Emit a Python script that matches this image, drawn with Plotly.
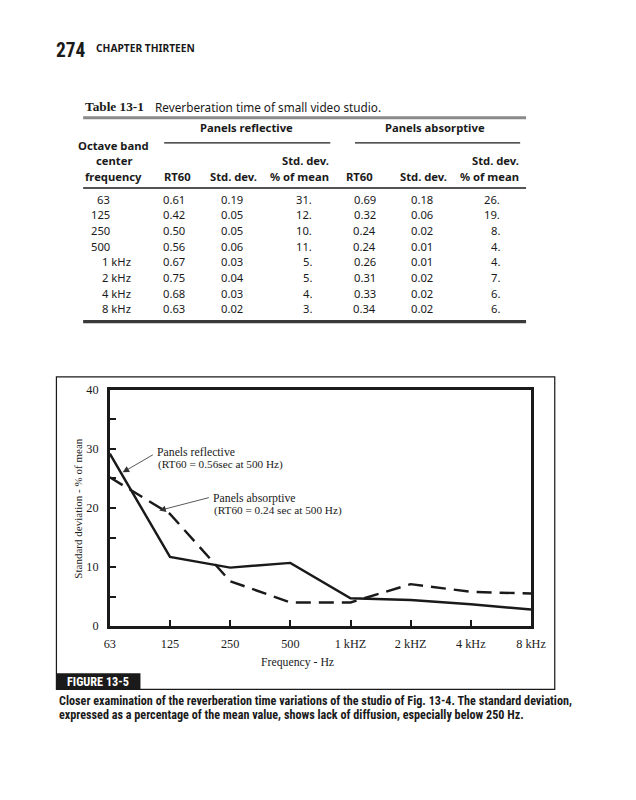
import plotly.graph_objects as go

# ---------------- data ----------------
freq_labels = ["63", "125", "250", "500", "1 kHZ", "2 kHZ", "4 kHz", "8 kHz"]
reflective_pct = [29.2, 11.7, 9.9, 10.7, 4.7, 4.4, 3.7, 2.8]
absorptive_pct = [25.2, 19.0, 7.6, 4.0, 4.0, 7.1, 5.8, 5.5]
y_ticks = [0, 10, 20, 30, 40]

table_freq = ["63", "125", "250", "500", "1 kHz", "2 kHz", "4 kHz", "8 kHz"]
refl_rt60 = [0.61, 0.42, 0.50, 0.56, 0.67, 0.75, 0.68, 0.63]
refl_sd = [0.19, 0.05, 0.05, 0.06, 0.03, 0.04, 0.03, 0.02]
refl_pct = [31, 12, 10, 11, 5, 5, 4, 3]
abs_rt60 = [0.69, 0.32, 0.24, 0.24, 0.26, 0.31, 0.33, 0.34]
abs_sd = [0.18, 0.06, 0.02, 0.01, 0.01, 0.02, 0.02, 0.02]
abs_pct = [26, 19, 8, 4, 4, 7, 6, 6]

W, H = 636, 800
# the captured picture is the page shrunk slightly about its centre;
# place everything so it lands where the reference has it
S = 0.978
OX, OY = 7.0, 8.8


def px(x):
    return ((x - OX) / S) / W


def py(y):
    return 1 - ((y - OY) / S) / H


def fs(v):
    return v / S


SERIF = "Liberation Serif, Times New Roman, serif"
SANS = "Noto Sans, Open Sans, sans-serif"
NARROW = "Liberation Sans Narrow, Roboto Condensed, Roboto, sans-serif"
INK = "#1a1a1a"

fig = go.Figure()

fig.add_trace(go.Scatter(
    x=freq_labels, y=reflective_pct, mode="lines",
    line=dict(color=INK, width=fs(2.4)), showlegend=False, hoverinfo="skip"))
fig.add_trace(go.Scatter(
    x=freq_labels, y=absorptive_pct, mode="lines",
    line=dict(color=INK, width=fs(2.4), dash="15px,8px"), showlegend=False,
    hoverinfo="skip"))

annotations = []
shapes = []


def txt(text, x, y, size, family=SANS, xanchor="left", bold=False,
        color=INK, textangle=0):
    t = f"<b>{text}</b>" if bold else text
    annotations.append(dict(
        text=t, x=px(x), y=py(y), xref="paper", yref="paper",
        xanchor=xanchor, yanchor="middle", showarrow=False, borderpad=0,
        textangle=textangle,
        font=dict(family=family, size=fs(size), color=color)))


def hline(x0, x1, y, width=1, color=INK):
    shapes.append(dict(type="line", xref="paper", yref="paper",
                       x0=px(x0), x1=px(x1), y0=py(y), y1=py(y),
                       line=dict(color=color, width=fs(width))))


# ---------- page header ----------
txt("274", 57, 52, 19, family=NARROW, bold=True)
txt("CHAPTER THIRTEEN", 97, 50, 10, family=SANS, bold=True)

# ---------- table ----------
txt("Table 13-1", 86, 108, 13, family=SERIF, bold=True)
txt("Reverberation time of small video studio.", 157, 108, 11.5)
hline(85, 533, 119, width=3, color="#8a8a8a")

txt("Panels reflective", 250, 129, 11, bold=True, xanchor="center")
txt("Panels absorptive", 441, 129, 11, bold=True, xanchor="center")
hline(167, 335, 144, width=1.2)
hline(360, 527, 144, width=1.2)

txt("Octave band", 116, 147, 11, bold=True, xanchor="center")
txt("center", 116, 162, 11, bold=True, xanchor="center")
txt("frequency", 116, 178, 11, bold=True, xanchor="center")
txt("RT60", 180, 178, 11, bold=True, xanchor="center")
txt("Std. dev.", 237, 178, 11, bold=True, xanchor="center")
txt("Std. dev.", 335, 162, 11, bold=True, xanchor="right")
txt("% of mean", 335, 178, 11, bold=True, xanchor="right")
txt("RT60", 365, 178, 11, bold=True, xanchor="center")
txt("Std. dev.", 429, 178, 11, bold=True, xanchor="center")
txt("Std. dev.", 527, 162, 11, bold=True, xanchor="right")
txt("% of mean", 527, 178, 11, bold=True, xanchor="right")
hline(85, 533, 189, width=1.5)

for i, f in enumerate(table_freq):
    y = 200 + i * 15.6
    if "kHz" in f:
        txt(f, 134, y, 11, xanchor="right")
    else:
        txt(f, 113, y, 11, xanchor="right")
    txt(f"{refl_rt60[i]:.2f}", 177, y, 11, xanchor="center")
    txt(f"{refl_sd[i]:.2f}", 236, y, 11, xanchor="center")
    txt(f"{refl_pct[i]:d}.", 317, y, 11, xanchor="right")
    txt(f"{abs_rt60[i]:.2f}", 370, y, 11, xanchor="center")
    txt(f"{abs_sd[i]:.2f}", 428, y, 11, xanchor="center")
    txt(f"{abs_pct[i]:d}.", 508, y, 11, xanchor="right")
hline(85, 533, 322, width=3, color="#3a3a3a")

# ---------- figure frame ----------
shapes.append(dict(type="rect", xref="paper", yref="paper",
                   x0=px(58), x1=px(562), y0=py(688), y1=py(377),
                   line=dict(color=INK, width=fs(1.2))))
shapes.append(dict(type="rect", xref="paper", yref="paper",
                   x0=px(58), x1=px(143), y0=py(688), y1=py(672),
                   line=dict(color=INK, width=0), fillcolor=INK))
txt("FIGURE 13-5", 100.5, 680.5, 12, family=NARROW, bold=True,
    xanchor="center", color="white")

# chart labels
txt("Standard deviation - % of mean", 80, 508, 10.8, family=SERIF,
    xanchor="center", textangle=-90)
txt("Frequency - Hz", 302, 661, 11.5, family=SERIF, xanchor="center")

txt("Panels reflective", 159, 452, 11.5, family=SERIF)
txt("(RT60 = 0.56sec at 500 Hz)", 160, 464, 11, family=SERIF)
txt("Panels absorptive", 215, 498, 11.5, family=SERIF)
txt("(RT60 = 0.24 sec at 500 Hz)", 216, 510, 11, family=SERIF)


def arrow(hx, hy, tx, ty):
    annotations.append(dict(
        text="", x=px(hx), y=py(hy), xref="paper", yref="paper",
        ax=(tx - hx) / S, ay=(ty - hy) / S, axref="pixel", ayref="pixel",
        showarrow=True, arrowhead=2, arrowsize=1.6, arrowwidth=fs(0.8),
        arrowcolor="#333"))


arrow(125, 472, 156, 454)
arrow(162, 510, 212, 497)

# caption
cap1 = ("Closer examination of the reverberation time variations of the studio "
        "of Fig. 13-4. The standard deviation,")
cap2 = ("expressed as a percentage of the mean value, shows lack of diffusion, "
        "especially below 250 Hz.")
txt(cap1, 60, 700, 11.9, family=NARROW, bold=True)
txt(cap2, 60, 714, 11.9, family=NARROW, bold=True)

fig.update_layout(
    width=W, height=H, margin=dict(l=0, r=0, t=0, b=0),
    paper_bgcolor="white", plot_bgcolor="white",
    annotations=annotations, shapes=shapes, showlegend=False,
    xaxis=dict(
        domain=[px(112), px(538)], type="category",
        categoryorder="array", categoryarray=freq_labels,
        range=[0, 7], showgrid=False, zeroline=False,
        showline=True, mirror=True, linecolor=INK, linewidth=fs(2.5),
        ticks="inside", ticklen=fs(6), tickwidth=fs(1.5), tickcolor=INK,
        tickfont=dict(family=SERIF, size=fs(12), color=INK),
        ticklabelstandoff=4, fixedrange=True),
    yaxis=dict(
        domain=[py(625), py(390)], range=[0, 40],
        tickvals=y_ticks, showgrid=False, zeroline=False,
        showline=True, mirror=True, linecolor=INK, linewidth=fs(2.5),
        ticks="inside", ticklen=fs(6), tickwidth=fs(1.5), tickcolor=INK,
        minor=dict(dtick=5, ticks="inside", ticklen=fs(6),
                   tickwidth=fs(1.5), tickcolor=INK, showgrid=False),
        tickfont=dict(family=SERIF, size=fs(12), color=INK),
        ticklabelstandoff=6, fixedrange=True),
)

fig.write_html(
    "out.html",
    config={"displayModeBar": False},
    post_script=("document.documentElement.style.margin='0';"
                 "document.documentElement.style.padding='0';"
                 "document.body.style.margin='0';"
                 "document.body.style.padding='0';"
                 "document.documentElement.style.overflow='hidden';"),
)
